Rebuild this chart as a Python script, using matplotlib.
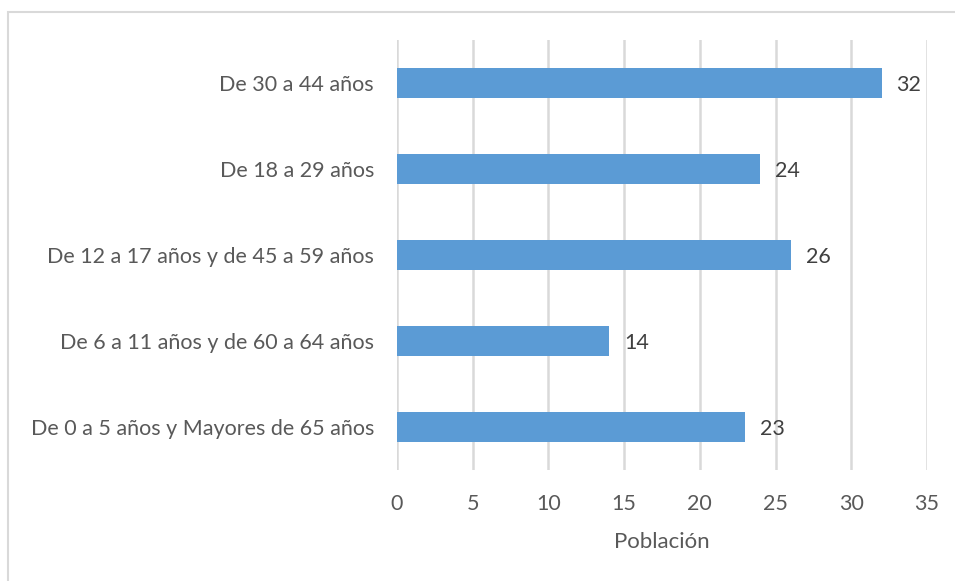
import matplotlib
matplotlib.use("Agg")
import matplotlib.pyplot as plt
from matplotlib.patches import Rectangle

categories = [
    "De 0 a 5 años y Mayores de 65 años",
    "De 6 a 11 años y de 60 a 64 años",
    "De 12 a 17 años y de 45 a 59 años",
    "De 18 a 29 años",
    "De 30 a 44 años",
]
values = [23, 14, 26, 24, 32]
xticks = [0, 5, 10, 15, 20, 25, 30, 35]

plt.rcParams['font.family'] = ['Lato', 'DejaVu Sans']
txt = '#595959'

fig = plt.figure(figsize=(9.55, 5.81), dpi=100)
fig.patches.append(Rectangle((8/955, -0.1), 1.1, (1 - 12/581) + 0.1, transform=fig.transFigure,
                             fill=False, edgecolor='#D9D9D9', linewidth=1.5))
ax = fig.add_axes([397/955, 1 - 470/581, (927 - 397)/955, (470 - 40)/581])
y = list(range(len(categories)))
ax.barh(y, values, height=0.35, color='#5B9BD5', zorder=3)
for yi, v in zip(y, values):
    ax.annotate(str(v), (v, yi), xytext=(15, -2), textcoords='offset pixels',
                va='center', ha='left', fontsize=15.5, color='#404040')
ax.set_xlim(0, 35)
ax.set_ylim(-0.5, 4.5)
ax.set_xticks(xticks)
ax.set_yticks(y)
ax.set_yticklabels(categories, fontsize=15.5, color=txt)
ax.tick_params(axis='x', labelsize=15.5, labelcolor=txt, length=0, pad=17)
ax.tick_params(axis='y', length=0, pad=16.5)
ax.grid(axis='x', color='#D9D9D9', linewidth=1.8, zorder=0)
for s in ax.spines.values():
    s.set_visible(False)
ax.set_xlabel("Población", fontsize=16, color=txt)
ax.xaxis.set_label_coords(0.5, -0.168, transform=ax.transAxes)
ax.xaxis.label.set_va('center')
fig.savefig("out.png", dpi=100)
